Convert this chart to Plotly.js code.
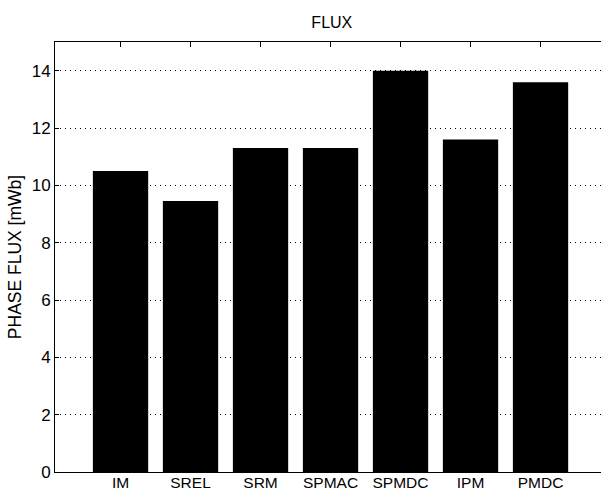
<!DOCTYPE html>
<html>
<head>
<meta charset="utf-8">
<script src="https://cdn.plot.ly/plotly-3.0.1.min.js"></script>
<style>html,body{margin:0;padding:0;background:#fff;overflow:hidden}#chart{width:601px;height:492px}</style>
</head>
<body>
<div id="chart"></div>
<script>
const categories = ["IM", "SREL", "SRM", "SPMAC", "SPMDC", "IPM", "PMDC"];
const fluxValues = [10.5, 9.45, 11.3, 11.3, 14.0, 11.6, 13.6];
const yTicks = [0, 2, 4, 6, 8, 10, 12, 14];

const xPos = categories.map((c, i) => i + 1);

const trace = {
  type: "bar",
  x: xPos,
  y: fluxValues,
  marker: {color: "#000000", line: {width: 0}},
  hoverinfo: "skip"
};

const layout = {
  width: 601,
  height: 492,
  margin: {l: 55, r: 0, t: 42, b: 20},
  paper_bgcolor: "#ffffff",
  plot_bgcolor: "#ffffff",
  font: {family: "Arial, Liberation Sans, sans-serif", color: "#000000", size: 15},
  bargap: 0.21,
  showlegend: false,
  title: {
    text: "FLUX",
    font: {size: 16, color: "#000000"},
    x: 0.507, xref: "paper", xanchor: "center",
    y: 0.955, yref: "container", yanchor: "middle"
  },
  xaxis: {
    range: [0.064, 7.864],
    tickmode: "array",
    tickvals: xPos,
    ticktext: categories,
    ticks: "inside",
    ticklen: 5,
    tickcolor: "#000000",
    showline: true,
    linecolor: "#000000",
    linewidth: 1,
    mirror: "ticks",
    showgrid: false,
    zeroline: false,
    automargin: false,
    ticklabelstandoff: -4,
    tickfont: {size: 15.5}
  },
  yaxis: {
    range: [0, 15],
    tickmode: "array",
    tickvals: yTicks,
    ticks: "inside",
    ticklen: 4,
    tickcolor: "#000000",
    showline: true,
    linecolor: "#000000",
    linewidth: 1,
    showgrid: true,
    gridcolor: "#000000",
    gridwidth: 1,
    griddash: "1px,4px",
    zeroline: false,
    automargin: false,
    tickfont: {size: 17},
    title: {text: "PHASE FLUX [mWb]", font: {size: 17.5}, standoff: 5}
  }
};

Plotly.newPlot("chart", [trace], layout, {staticPlot: true, displayModeBar: false});
</script>
</body>
</html>
